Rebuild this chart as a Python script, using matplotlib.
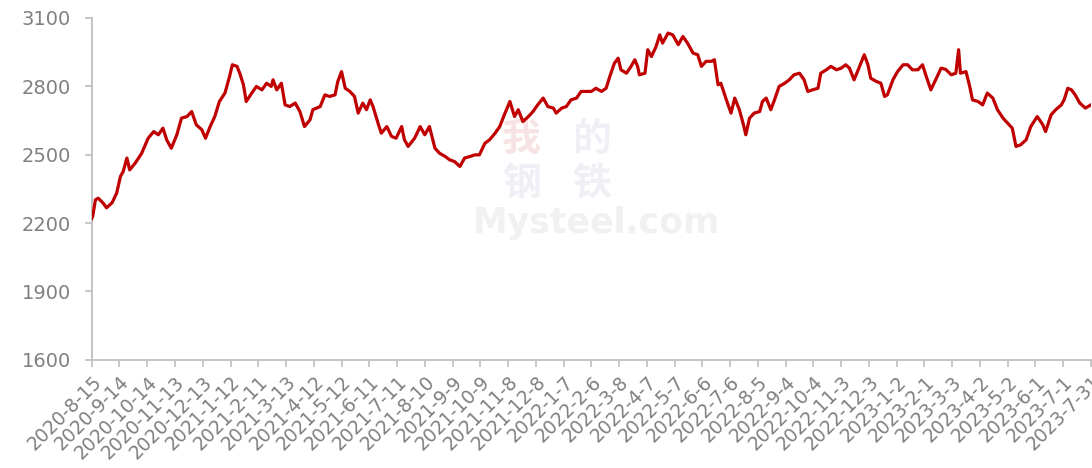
import pandas as pd
import matplotlib
matplotlib.use("Agg")
import matplotlib.pyplot as plt

start = pd.Timestamp("2020-08-15")

# days since 2020-8-15
days = [0, 1, 4, 7, 12, 16, 22, 27, 31, 34, 38, 41, 47, 54, 61, 67, 72, 77, 81, 86,
        92, 97, 103, 108, 113, 119, 123, 128, 133, 138, 144, 149, 152, 157, 160, 164,
        167, 173, 178, 184, 189, 194, 196, 200, 205, 209, 214, 220, 225, 230, 236, 239,
        247, 252, 257, 263, 266, 270, 274, 279, 284, 288, 293, 297, 301, 304, 310, 313,
        319, 324, 329, 335, 338, 342, 349, 355, 360, 365, 371, 376, 382, 387, 392, 398,
        403, 409, 414, 419, 425, 430, 436, 441, 446, 452, 457, 461, 466, 472, 477, 482,
        488, 493, 499, 502, 508, 513, 518, 524, 529, 535, 540, 545, 551, 556, 560, 565,
        569, 572, 578, 583, 587, 590, 592, 598, 601, 605, 610, 614, 617, 623, 628, 634,
        639, 644, 650, 655, 659, 664, 670, 673, 677, 680, 686, 691, 695, 700, 704, 707,
        711, 716, 722, 725, 729, 734, 738, 743, 749, 754, 759, 765, 770, 774, 779, 785,
        788, 794, 799, 805, 810, 815, 819, 824, 830, 835, 839, 842, 848, 853, 857, 860,
        866, 871, 877, 882, 887, 893, 898, 902, 907, 913, 918, 923, 929, 934, 937, 939,
        945, 949, 952, 958, 963, 968, 974, 979, 985, 990, 995, 999, 1004, 1010, 1015,
        1022, 1028, 1031, 1037, 1042, 1048, 1051, 1055, 1059, 1063, 1068, 1074, 1080]

price = [2220, 2228, 2302, 2309, 2289, 2267, 2289, 2332, 2404, 2426, 2485, 2433, 2463,
         2506, 2572, 2601, 2587, 2616, 2565, 2528, 2587, 2660, 2667, 2689, 2631, 2609,
         2572, 2623, 2667, 2733, 2770, 2843, 2894, 2887, 2857, 2806, 2733, 2770, 2799,
         2784, 2813, 2799, 2828, 2784, 2813, 2718, 2711, 2726, 2689, 2623, 2653, 2697,
         2711, 2762, 2755, 2762, 2821, 2864, 2791, 2777, 2755, 2682, 2726, 2697, 2740,
         2711, 2631, 2594, 2623, 2580, 2572, 2623, 2565, 2536, 2572, 2623, 2587, 2623,
         2528, 2506, 2492, 2477, 2470, 2448, 2485, 2492, 2499, 2499, 2550, 2565, 2594,
         2623, 2675, 2733, 2667, 2697, 2645, 2667, 2689, 2718, 2748, 2711, 2704, 2682,
         2704, 2711, 2740, 2748, 2777, 2777, 2777, 2791, 2777, 2791, 2843, 2901, 2923,
         2872, 2857, 2887, 2916, 2887, 2850, 2857, 2960, 2930, 2974, 3025, 2989, 3033,
         3025, 2982, 3018, 2989, 2945, 2938, 2887, 2909, 2909, 2916, 2806, 2813, 2740,
         2682, 2748, 2697, 2638, 2587, 2660, 2682, 2689, 2733, 2748, 2697, 2740, 2799,
         2813, 2828, 2850, 2857, 2828, 2777, 2784, 2791, 2857, 2872, 2887, 2872, 2879,
         2894, 2879, 2828, 2887, 2938, 2894, 2835, 2821, 2813, 2755, 2762, 2828, 2864,
         2894, 2894, 2872, 2872, 2894, 2843, 2784, 2835, 2879, 2874, 2850, 2857, 2960,
         2857, 2864, 2799, 2740, 2733, 2718, 2770, 2748, 2697, 2660, 2638, 2616, 2536,
         2543, 2565, 2623, 2667, 2631, 2601, 2675, 2697, 2718, 2740, 2791, 2784, 2762,
         2726, 2704, 2718]

dates = [start + pd.Timedelta(days=d) for d in days]
tick_dates = [start + pd.Timedelta(days=30 * i) for i in range(37)]
tick_labels = [f"{t.year}-{t.month}-{t.day}" for t in tick_dates]
yticks = [1600, 1900, 2200, 2500, 2800, 3100]

fig = plt.figure(figsize=(10.92, 4.68), dpi=100)
ax = fig.add_axes([0.084, 0.231, 0.915, 0.731])

# faint watermark
wm = dict(transform=ax.transAxes, fontsize=28, family=["Noto Sans CJK SC"],
          fontweight="bold", ha="center", va="center", zorder=0)
ax.text(0.43, 0.645, "我", color="#f7e3e3", **wm)
ax.text(0.50, 0.645, "的", color="#eef0f5", **wm)
ax.text(0.43, 0.515, "钢", color="#eef0f5", **wm)
ax.text(0.50, 0.515, "铁", color="#eef0f5", **wm)
ax.text(0.505, 0.40, "Mysteel.com", transform=ax.transAxes, fontsize=25, color="#f1f1f1",
        fontweight="bold", ha="center", va="center", zorder=0)

ax.plot(dates, price, color="#C00000", lw=2.3, solid_joinstyle="round", zorder=3)

ax.set_xlim(tick_dates[0], tick_dates[-1])
ax.set_ylim(1600, 3100)
ax.set_yticks(yticks)
ax.set_xticks(tick_dates)
ax.set_xticklabels(tick_labels, rotation=45, ha="right", rotation_mode="anchor")

for s in ["top", "right"]:
    ax.spines[s].set_visible(False)
for s in ["left", "bottom"]:
    ax.spines[s].set_color("#bfbfbf")
    ax.spines[s].set_linewidth(1.3)
ax.tick_params(axis="both", colors="#bfbfbf", length=5, width=1.2)
ax.tick_params(axis="y", labelsize=14, labelcolor="#808080", pad=10)
ax.tick_params(axis="x", labelsize=13.5, labelcolor="#808080", pad=4)

fig.savefig("out.png", dpi=100)
